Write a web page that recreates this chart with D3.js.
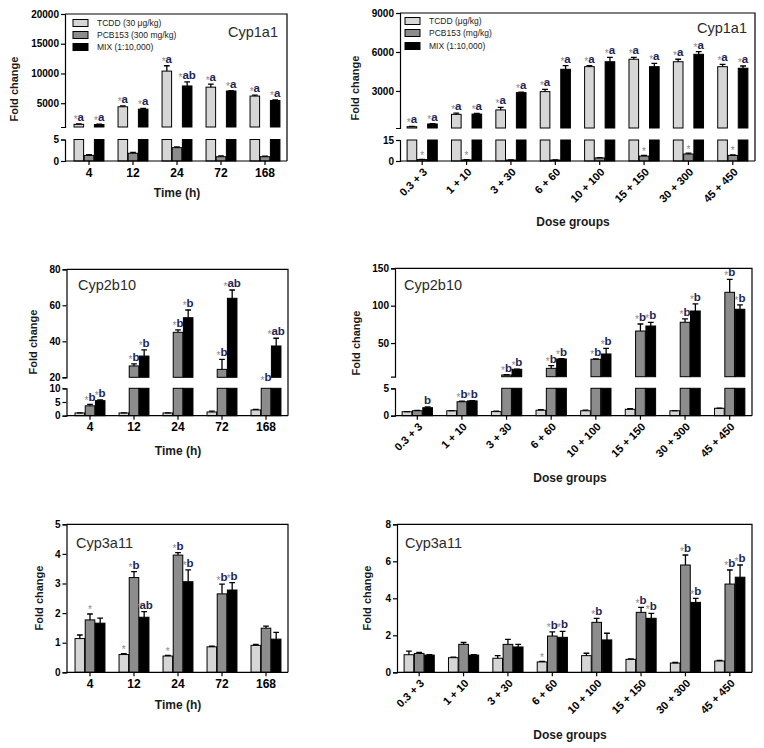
<!DOCTYPE html>
<html><head><meta charset="utf-8">
<script src="https://cdn.jsdelivr.net/npm/d3@7"></script>
<style>body{margin:0;background:#fff}svg{display:block}text{font-family:"Liberation Sans",Arial,sans-serif}</style>
</head><body><svg id="c" width="764" height="748"></svg>
<script>
// ---------- data ----------
const timeGroups = ["4","12","24","72","168"];
const doseGroups = ["0.3 + 3","1 + 10","3 + 30","6 + 60","10 + 100","15 + 150","30 + 300","45 + 450"];
const seriesNames = ["TCDD","PCB153","MIX"];
const seriesColors = ["#d6d6d6","#8c8c8c","#000000"];
const legendTime = ["TCDD (30 \u03bcg/kg)","PCB153 (300 mg/kg)","MIX (1:10,000)"];
const legendDose = ["TCDD (\u03bcg/kg)","PCB153 (mg/kg)","MIX (1:10,000)"];

// Cyp1a1 - time
const cyp1a1TimeMean = [[1450,4400,10400,7700,6200],[1.3,1.8,3.1,1.0,1.0],[1420,4000,7900,7050,5450]];
const cyp1a1TimeErr  = [[60,150,900,500,150],[0.2,0.2,0.2,0.2,0.1],[50,120,700,80,100]];
const cyp1a1TimeMarks = [["*a","*a","*a","*a","*a"],["","","","",""],["*a","*a","*ab","*a","*a"]];
const cyp1a1TimeLowTicks = [0,5];
const cyp1a1TimeHighTicks = [5000,10000,15000,20000];

// Cyp1a1 - dose
const cyp1a1DoseMean = [[250,1200,1540,2950,4870,5440,5250,4870],[1.0,0.8,0.7,0.7,2.2,3.5,5.0,4.0],[460,1220,2870,4670,5250,4870,5820,4750]];
const cyp1a1DoseErr  = [[30,90,200,180,80,150,190,180],[0.1,0.1,0.1,0.1,0.2,0.5,0.6,0.3],[30,60,40,280,340,260,200,170]];
const cyp1a1DoseMarks = [["*a","*a","*a","*a","*a","*a","*a","*a"],["*","*","","","","*","*","*"],["*a","*a","*a","*a","*a","*a","*a","*a"]];
const cyp1a1DoseLowTicks = [0,15];
const cyp1a1DoseHighTicks = [3000,6000,9000];

// Cyp2b10 - time
const cyp2b10TimeMean = [[1.0,1.0,1.0,1.35,2.1],[3.6,26.3,45.0,24.4,17],[5.5,31.8,53.1,63.9,37.4]];
const cyp2b10TimeErr  = [[0.05,0.05,0.05,0.3,0.2],[0.5,1.2,1.3,5.6,0],[0.3,3.4,4.3,4.6,4.3]];
const cyp2b10TimeMarks = [["","","","",""],["*b","*b","*b","*b","*b"],["*b","*b","*b","*ab","*ab"]];
const cyp2b10TimeLowTicks = [0,5,10];
const cyp2b10TimeHighTicks = [20,40,60,80];

// Cyp2b10 - dose
const cyp2b10DoseMean = [[0.73,0.9,0.75,1.0,0.9,1.17,0.9,1.35],[0.91,2.55,7.3,16.2,28.3,66.1,77.8,117.9],[1.46,2.7,14.9,28.7,35.4,72.8,92.9,95.2]];
const cyp2b10DoseErr  = [[0.03,0.03,0.1,0.1,0.1,0.1,0.03,0.03],[0.05,0.1,0.3,3.5,0.6,9.4,4.5,17.4],[0.15,0.05,0.3,0.5,7.6,4.9,9.4,5.8]];
const cyp2b10DoseMarks = [["","","","","","","",""],["","*b","*b","*b","*b","*b","*b","*b"],["b","*b","*b","*b","*b","*b","*b","*b"]];
const cyp2b10DoseLowTicks = [0,5];
const cyp2b10DoseHighTicks = [50,100,150];

// Cyp3a11 - time
const cyp3a11TimeMean = [[1.14,0.6,0.55,0.86,0.91],[1.77,3.2,3.96,2.65,1.49],[1.66,1.86,3.06,2.78,1.12]];
const cyp3a11TimeErr  = [[0.12,0.03,0.02,0.02,0.03],[0.2,0.2,0.08,0.33,0.07],[0.17,0.19,0.4,0.25,0.23]];
const cyp3a11TimeMarks = [["","*","*","",""],["*","*b","*b","*b",""],["","*ab","*b","*b",""]];
const cyp3a11TimeTicks = [0,1,2,3,4,5];

// Cyp3a11 - dose
const cyp3a11DoseMean = [[0.95,0.79,0.76,0.56,0.9,0.7,0.5,0.61],[1.02,1.51,1.51,1.96,2.7,3.24,5.8,4.77],[0.93,0.93,1.37,1.89,1.75,2.92,3.78,5.14]];
const cyp3a11DoseErr  = [[0.2,0.03,0.14,0.03,0.13,0.03,0.03,0.03],[0.05,0.1,0.27,0.23,0.22,0.27,0.54,0.76],[0.03,0.03,0.14,0.32,0.36,0.27,0.22,0.66]];
const cyp3a11DoseMarks = [["","","","*","","","",""],["","","","*b","*b","*b","*b","*b"],["","","","*b","","*b","*b","*b"]];
const cyp3a11DoseTicks = [0,2,4,6,8];

// ---------- layout ----------
const panels = [
  {groups:timeGroups, means:cyp1a1TimeMean, errs:cyp1a1TimeErr, marks:cyp1a1TimeMarks,
   title:"Cyp1a1", tX:278, tY:37, tAnchor:"end", left:65, right:287, xr:[67,287],
   segs:[{d:[0,5], r:[161,139.5], t:cyp1a1TimeLowTicks},{d:[1000,20000], r:[127,14], t:cyp1a1TimeHighTicks}],
   yT:[14,89], xT:["Time (h)",177,197], rot:false, legend:{x:73, ys:[23,35,47], texts:legendTime, tx:97}},
  {groups:doseGroups, means:cyp1a1DoseMean, errs:cyp1a1DoseErr, marks:cyp1a1DoseMarks,
   title:"Cyp1a1", tX:747, tY:33, tAnchor:"end", left:400, right:755, xr:[400,755],
   segs:[{d:[0,15], r:[161,140], t:cyp1a1DoseLowTicks},{d:[150,9000], r:[128,13], t:cyp1a1DoseHighTicks}],
   yT:[355,88], xT:["Dose groups",573,226], rot:true, legend:{x:405, ys:[21,33,46], texts:legendDose, tx:429}},
  {groups:timeGroups, means:cyp2b10TimeMean, errs:cyp2b10TimeErr, marks:cyp2b10TimeMarks,
   title:"Cyp2b10", tX:78, tY:290, tAnchor:"start", left:66.5, right:288, xr:[68,288],
   segs:[{d:[0,10], r:[415.7,388.3], t:cyp2b10TimeLowTicks},{d:[20,80], r:[377.3,269.3], t:cyp2b10TimeHighTicks}],
   yT:[33,342], xT:["Time (h)",178,455], rot:false},
  {groups:doseGroups, means:cyp2b10DoseMean, errs:cyp2b10DoseErr, marks:cyp2b10DoseMarks,
   title:"Cyp2b10", tX:404, tY:290, tAnchor:"start", left:395, right:752, xr:[395,752],
   segs:[{d:[0,5], r:[415.7,388.3], t:cyp2b10DoseLowTicks},{d:[5,150], r:[376.7,268.3], t:cyp2b10DoseHighTicks}],
   yT:[356,343], xT:["Dose groups",570,482], rot:true},
  {groups:timeGroups, means:cyp3a11TimeMean, errs:cyp3a11TimeErr, marks:cyp3a11TimeMarks,
   title:"Cyp3a11", tX:76, tY:548, tAnchor:"start", left:66.5, right:288, xr:[68,288],
   segs:[{d:[0,5], r:[672.3,524.3], t:cyp3a11TimeTicks}],
   yT:[39,598], xT:["Time (h)",178,709], rot:false},
  {groups:doseGroups, means:cyp3a11DoseMean, errs:cyp3a11DoseErr, marks:cyp3a11DoseMarks,
   title:"Cyp3a11", tX:405, tY:548, tAnchor:"start", left:397, right:752, xr:[397,752],
   segs:[{d:[0,8], r:[672.3,524.3], t:cyp3a11DoseTicks}],
   yT:[367,598], xT:["Dose groups",570,739], rot:true}
];

const svg = d3.select("#c");
const AX = 1.2;

panels.forEach(p => {
  const g = svg.append("g");
  const x = d3.scaleBand().domain(p.groups).range(p.xr).paddingInner(0.32).paddingOuter(0.16);
  const xs = d3.scaleBand().domain(seriesNames).range([0, x.bandwidth()]).paddingInner(0.06);
  p.segs.forEach(s => s.y = d3.scaleLinear().domain(s.d).range(s.r));
  const low = p.segs[0], top = p.segs[p.segs.length-1];
  const bottomY = low.r[0], topY = top.r[1];

  // bars
  seriesNames.forEach((sn, si) => {
    p.groups.forEach((gr, gi) => {
      const v = p.means[si][gi], e = p.errs[si][gi];
      const bx = x(gr) + xs(sn), bw = xs.bandwidth();
      p.segs.forEach(s => {
        const lo = s.d[0], hi = s.d[1];
        if (v > lo) {
          const tv = Math.min(v, hi);
          g.append("rect").attr("x", bx).attr("y", s.y(tv))
            .attr("width", bw).attr("height", Math.max(0, s.y(lo) - s.y(tv)))
            .attr("fill", seriesColors[si]).attr("stroke", "#000").attr("stroke-width", 1);
        }
      });
      // error bar
      const sv = p.segs.find(s => v >= s.d[0] && v <= s.d[1]);
      if (sv && e > 0) {
        const ty = sv.y(Math.min(v + e, sv.d[1]));
        const cx = bx + bw / 2, cw = bw * 0.3;
        g.append("path").attr("d", `M${cx},${sv.y(v)}V${ty}M${cx-cw},${ty}H${cx+cw}`)
          .attr("stroke", "#000").attr("stroke-width", 1.3).attr("fill", "none");
      }
      // significance mark
      const m = p.marks[si][gi];
      if (m) {
        const t = v + e;
        const st = p.segs.find(s => t >= s.d[0] && t <= s.d[1]);
        const ly = st ? st.y(t) - 3 : top.y(top.d[0]) + 4;
        const txt = g.append("text").attr("x", bx + bw / 2).attr("y", ly)
          .attr("text-anchor", "middle").attr("font-size", 11.5).attr("font-weight", "bold");
        const hasStar = m[0] === "*";
        const rest = hasStar ? m.slice(1) : m;
        if (hasStar) txt.append("tspan").text("*").attr("fill", "#8a8a8a").attr("font-size", 10)
          .attr("font-weight", "normal").attr("dy", 2.5);
        if (rest) txt.append("tspan").text(rest).attr("fill", "#1f2656").attr("dy", hasStar ? -2.5 : 0);
      }
    });
  });

  // left axis segments
  p.segs.forEach(s => {
    const ax = g.append("g").attr("transform", `translate(${p.left},0)`)
      .call(d3.axisLeft(s.y).tickValues(s.t).tickSize(4).tickSizeOuter(4).tickPadding(2).tickFormat(d3.format("d")));
    ax.selectAll("path,line").attr("stroke", "#000").attr("stroke-width", AX);
    ax.selectAll("text").attr("font-size", 10).attr("font-weight", "bold").attr("fill", "#000")
      .style("font-family", '"Liberation Sans",Arial,sans-serif');
  });

  // bottom axis
  g.append("line").attr("x1", p.left).attr("x2", p.right).attr("y1", bottomY).attr("y2", bottomY)
    .attr("stroke", "#000").attr("stroke-width", AX);
  const bx = g.append("g").attr("transform", `translate(0,${bottomY})`)
    .call(d3.axisBottom(x).tickSize(4).tickSizeOuter(0).tickPadding(3));
  bx.select(".domain").remove();
  bx.selectAll("line").attr("stroke", "#000").attr("stroke-width", AX);
  const tx = bx.selectAll("text").attr("font-weight", "bold").attr("fill", "#000")
    .style("font-family", '"Liberation Sans",Arial,sans-serif');
  if (p.rot) {
    tx.attr("font-size", 11).attr("y", 0).attr("dy", "0.35em")
      .attr("transform", "translate(3,9) rotate(-45)").attr("text-anchor", "end");
  } else {
    tx.attr("font-size", 12);
  }

  // frame: top and right
  g.append("path").attr("d", `M${p.left},${topY}H${p.right}V${bottomY}`)
    .attr("fill", "none").attr("stroke", "#000").attr("stroke-width", AX);

  // title
  g.append("text").attr("x", p.tX).attr("y", p.tY).attr("text-anchor", p.tAnchor)
    .attr("font-size", 14.5).attr("fill", "#2a2a2a").text(p.title);

  // axis titles
  g.append("text").attr("transform", `translate(${p.yT[0]},${p.yT[1]}) rotate(-90)`)
    .attr("text-anchor", "middle").attr("dy", "0.35em").attr("font-size", 11).attr("font-weight", "bold")
    .attr("fill", "#1a1a1a").text("Fold change");
  g.append("text").attr("x", p.xT[1]).attr("y", p.xT[2]).attr("text-anchor", "middle")
    .attr("font-size", 12).attr("font-weight", "bold").attr("fill", "#1a1a1a").text(p.xT[0]);

  // legend
  if (p.legend) {
    p.legend.ys.forEach((ly, i) => {
      g.append("rect").attr("x", p.legend.x).attr("y", ly - 3.5).attr("width", 15).attr("height", 7)
        .attr("fill", seriesColors[i]).attr("stroke", "#000").attr("stroke-width", 1);
      g.append("text").attr("x", p.legend.tx).attr("y", ly + 3).attr("font-size", 8.5)
        .attr("fill", "#222").text(p.legend.texts[i]);
    });
  }
});
</script></body></html>
